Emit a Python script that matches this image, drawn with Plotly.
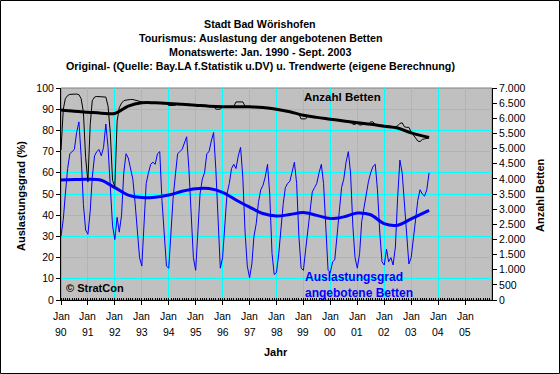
import plotly.graph_objects as go

# ---------------- data ----------------
years = list(range(1990, 2004))
# Auslastungsgrad (%) monthly, Jan..Dec per year (2003: Jan..Sep)
aus_1990 = [30, 38, 50, 62, 69, 70, 71, 79, 84, 68, 45, 33]
aus_1991 = [31, 42, 58, 68, 70, 71, 68, 72, 83, 72, 52, 35]
aus_1992 = [28.5, 39, 32, 40, 60, 69, 67, 62, 57, 46, 33, 20]
aus_1993 = [16, 36, 55, 60, 64, 65, 64, 69, 70, 47, 30, 16]
aus_1994 = [15, 33, 48, 59, 69, 70, 71, 74, 77, 62, 38, 20]
aus_1995 = [14, 36, 50, 57, 60, 69, 70, 75, 79, 62, 40, 15]
aus_1996 = [20, 38, 50, 55, 62, 64, 62, 68, 72, 58, 32, 16]
aus_1997 = [10.5, 17, 30, 36, 46, 52, 54, 58, 64, 50, 22, 12]
aus_1998 = [13, 22, 33, 45, 53, 55, 56, 61, 65, 55, 30, 15]
aus_1999 = [14, 24, 33, 44, 51, 53, 55, 60, 64, 55, 30, 14]
aus_2000 = [13, 18, 19, 30, 44, 53, 57, 65, 70, 60, 35, 20]
aus_2001 = [15, 22, 37, 44, 51, 56, 60, 63, 64, 52, 32, 18]
aus_2002 = [16.5, 24, 18, 20, 16.5, 25, 48, 66, 60, 45, 30, 17]
aus_2003 = [20, 30, 40, 47, 52, 50, 49, 52, 60]

# Anzahl Betten monthly
bet_1990 = [4950, 6300, 6650, 6750, 6790, 6800, 6800, 6800, 6780, 6650, 6200, 4700]
bet_1991 = [3900, 5800, 6580, 6700, 6720, 6720, 6720, 6720, 6700, 6400, 5500, 3950]
bet_1992 = [3750, 5900, 6350, 6500, 6580, 6600, 6620, 6620, 6620, 6600, 6580, 6550]
bet_1993 = [6530, 6520, 6520, 6520, 6510, 6510, 6510, 6510, 6510, 6500, 6500, 6500]
bet_1994 = [6420, 6420, 6420, 6430, 6480, 6480, 6470, 6470, 6460, 6460, 6450, 6450]
bet_1995 = [6440, 6440, 6430, 6420, 6420, 6410, 6410, 6400, 6400, 6300, 6300, 6300]
bet_1996 = [6390, 6390, 6390, 6390, 6390, 6390, 6540, 6540, 6540, 6540, 6400, 6380]
bet_1997 = [6380, 6380, 6380, 6370, 6370, 6360, 6360, 6350, 6340, 6330, 6320, 6310]
bet_1998 = [6300, 6290, 6270, 6250, 6240, 6220, 6210, 6190, 6170, 6150, 6130, 5980]
bet_1999 = [5970, 5980, 6080, 6070, 6060, 6050, 6040, 6030, 6020, 6010, 6000, 5990]
bet_2000 = [5970, 5960, 5950, 5940, 5930, 5920, 5910, 5900, 5890, 5880, 5800, 5800]
bet_2001 = [5850, 5780, 5780, 5830, 5820, 5810, 5880, 5880, 5790, 5780, 5770, 5760]
bet_2002 = [5750, 5740, 5730, 5720, 5710, 5720, 5750, 5830, 5850, 5720, 5700, 5700]
bet_2003 = [5550, 5450, 5350, 5250, 5230, 5300, 5320, 5330, 5350]

# Trend values (semi-annual readings)
trend_dates = ["1990-01-01", "1990-07-01", "1991-01-01", "1991-07-01", "1992-01-01", "1992-07-01",
               "1993-01-01", "1993-07-01", "1994-01-01", "1994-07-01", "1995-01-01", "1995-07-01",
               "1996-01-01", "1996-07-01", "1997-01-01", "1997-07-01", "1998-01-01", "1998-07-01",
               "1999-01-01", "1999-07-01", "2000-01-01", "2000-07-01", "2001-01-01", "2001-07-01",
               "2002-01-01", "2002-07-01", "2003-01-01", "2003-09-01"]
aus_trend = [56.6, 56.8, 57.0, 56.5, 53.0, 49.5, 48.3, 48.5, 49.5, 51.3, 52.5, 52.6,
             50.8, 47.2, 43.8, 40.8, 39.6, 40.3, 41.3, 39.9, 38.4, 39.2, 41.0, 40.2,
             36.0, 35.3, 38.3, 42.3]
bet_trend = [6270, 6230, 6200, 6170, 6160, 6400, 6510, 6510, 6490, 6460, 6430, 6400,
             6385, 6385, 6380, 6355, 6300, 6215, 6100, 6030, 5970, 5910, 5850, 5800,
             5740, 5680, 5520, 5370]

tick_dates = [f"{y}-01-01" for y in range(1990, 2006)]
tick_month = "Jan"
tick_years = [str(y)[2:] for y in range(1990, 2006)]
right_ticks = list(range(0, 7001, 500))

title_lines = ["Stadt Bad Wörishofen",
               "Tourismus: Auslastung der angebotenen Betten",
               "Monatswerte: Jan. 1990 - Sept. 2003",
               "Original- (Quelle: Bay.LA f.Statistik u.DV) u. Trendwerte (eigene Berechnung)"]

# -------------- assemble -------------
aus_all = (aus_1990 + aus_1991 + aus_1992 + aus_1993 + aus_1994 + aus_1995 + aus_1996 +
           aus_1997 + aus_1998 + aus_1999 + aus_2000 + aus_2001 + aus_2002 + aus_2003)
bet_all = (bet_1990 + bet_1991 + bet_1992 + bet_1993 + bet_1994 + bet_1995 + bet_1996 +
           bet_1997 + bet_1998 + bet_1999 + bet_2000 + bet_2001 + bet_2002 + bet_2003)
months = [f"{1990 + i // 12}-{i % 12 + 1:02d}-01" for i in range(len(aus_all))]

FONT = "Arial, Liberation Sans, sans-serif"
fig = go.Figure()
fig.add_trace(go.Scatter(x=months, y=aus_all, mode="lines", line=dict(color="#0000FF", width=1),
                         yaxis="y", hoverinfo="skip"))
fig.add_trace(go.Scatter(x=trend_dates, y=aus_trend, mode="lines",
                         line=dict(color="#0000FF", width=3, shape="spline"), yaxis="y",
                         hoverinfo="skip"))
fig.add_trace(go.Scatter(x=months, y=bet_all, mode="lines", line=dict(color="#000000", width=1),
                         yaxis="y2", hoverinfo="skip"))
fig.add_trace(go.Scatter(x=trend_dates, y=bet_trend, mode="lines",
                         line=dict(color="#000000", width=3, shape="spline"), yaxis="y2",
                         hoverinfo="skip"))

L, R, T, B = 61, 492, 88, 300
W, H = 560, 374
def px(x):
    return (x - L) / (R - L)
def py(y):
    return (B - y) / (B - T)

ann = []
for txt, yy in zip(title_lines, [24, 38, 52, 66]):
    ann.append(dict(text="<b>%s</b>" % txt, x=px(260), y=py(yy), xref="paper", yref="paper",
                    showarrow=False, xanchor="center", yanchor="middle",
                    font=dict(size=10.7, color="black", family=FONT)))
for d, yr in zip(tick_dates, tick_years):
    ann.append(dict(text=tick_month, x=d, y=py(316), xref="x", yref="paper", showarrow=False,
                    xanchor="center", yanchor="middle", font=dict(size=10.5, color="black", family=FONT)))
    ann.append(dict(text=yr, x=d, y=py(331.5), xref="x", yref="paper", showarrow=False,
                    xanchor="center", yanchor="middle", font=dict(size=10.5, color="black", family=FONT)))
ann.append(dict(text="<b>Anzahl Betten</b>", x=px(342), y=py(97), xref="paper", yref="paper",
                showarrow=False, xanchor="center", yanchor="middle",
                font=dict(size=11.5, color="black", family=FONT)))
ann.append(dict(text="<b>Auslastungsgrad<br>angebotene Betten</b>", x=px(303), y=py(284.5),
                xref="paper", yref="paper", showarrow=False, xanchor="left", yanchor="middle",
                align="left", font=dict(size=12, color="#0000FF", family=FONT)))
ann.append(dict(text="<b>© StratCon</b>", x=px(64), y=py(287.5), xref="paper", yref="paper",
                showarrow=False, xanchor="left", yanchor="middle",
                font=dict(size=11, color="black", family=FONT)))
ann.append(dict(text="<b>Auslastungsgrad (%)</b>", x=px(21), y=py(196), xref="paper", yref="paper",
                showarrow=False, textangle=-90, xanchor="center", yanchor="middle",
                font=dict(size=11, color="black", family=FONT)))
ann.append(dict(text="<b>Anzahl Betten</b>", x=px(540), y=py(195), xref="paper", yref="paper",
                showarrow=False, textangle=-90, xanchor="center", yanchor="middle",
                font=dict(size=11, color="black", family=FONT)))
ann.append(dict(text="<b>Jahr</b>", x=px(276), y=py(352), xref="paper", yref="paper",
                showarrow=False, xanchor="center", yanchor="middle",
                font=dict(size=11, color="black", family=FONT)))

shapes = [
    dict(type="rect", xref="paper", yref="paper", x0=0, x1=1, y0=0, y1=1,
         line=dict(color="#808080", width=1), layer="below"),
    dict(type="rect", xref="paper", yref="paper", x0=px(0.5), x1=px(W - 0.5),
         y0=py(H - 0.5), y1=py(0.5), line=dict(color="black", width=1)),
]

fig.update_layout(
    width=W, height=H,
    margin=dict(l=L, r=W - R, t=T, b=H - B, pad=0),
    paper_bgcolor="white", plot_bgcolor="#C0C0C0",
    showlegend=False, hovermode=False,
    separators=",.",
    font=dict(family=FONT, size=10.5, color="black"),
    annotations=ann, shapes=shapes,
    xaxis=dict(type="date", range=["1990-01-01", "2006-01-01"],
               tickmode="array", tickvals=tick_dates, showticklabels=False,
               showgrid=True, gridcolor="#00FFFF", gridwidth=1,
               showline=True, linecolor="black", linewidth=1,
               ticks="outside", ticklen=4, tickcolor="black",
               minor=dict(dtick="M1", tick0="1990-01-01", ticks="inside", ticklen=2,
                          tickcolor="black", showgrid=False),
               zeroline=False, automargin=False),
    yaxis=dict(range=[0, 100], dtick=10, tick0=0, showgrid=True, gridcolor="#00FFFF", gridwidth=1,
               showline=True, linecolor="black", linewidth=1, ticks="outside", ticklen=4,
               tickcolor="black", zeroline=False, tickfont=dict(size=10.5), automargin=False),
    yaxis2=dict(range=[0, 7000], overlaying="y", side="right", tickmode="array",
                tickvals=right_ticks, tickformat=",d", showgrid=False,
                showline=True, linecolor="black", linewidth=1, ticks="outside", ticklen=4,
                tickcolor="black", zeroline=False, tickfont=dict(size=10.5), automargin=False),
)

fig.write_html("out.html", config={"displayModeBar": False, "staticPlot": True},
               post_script="document.body.style.margin='0';document.body.style.overflow='hidden';")
